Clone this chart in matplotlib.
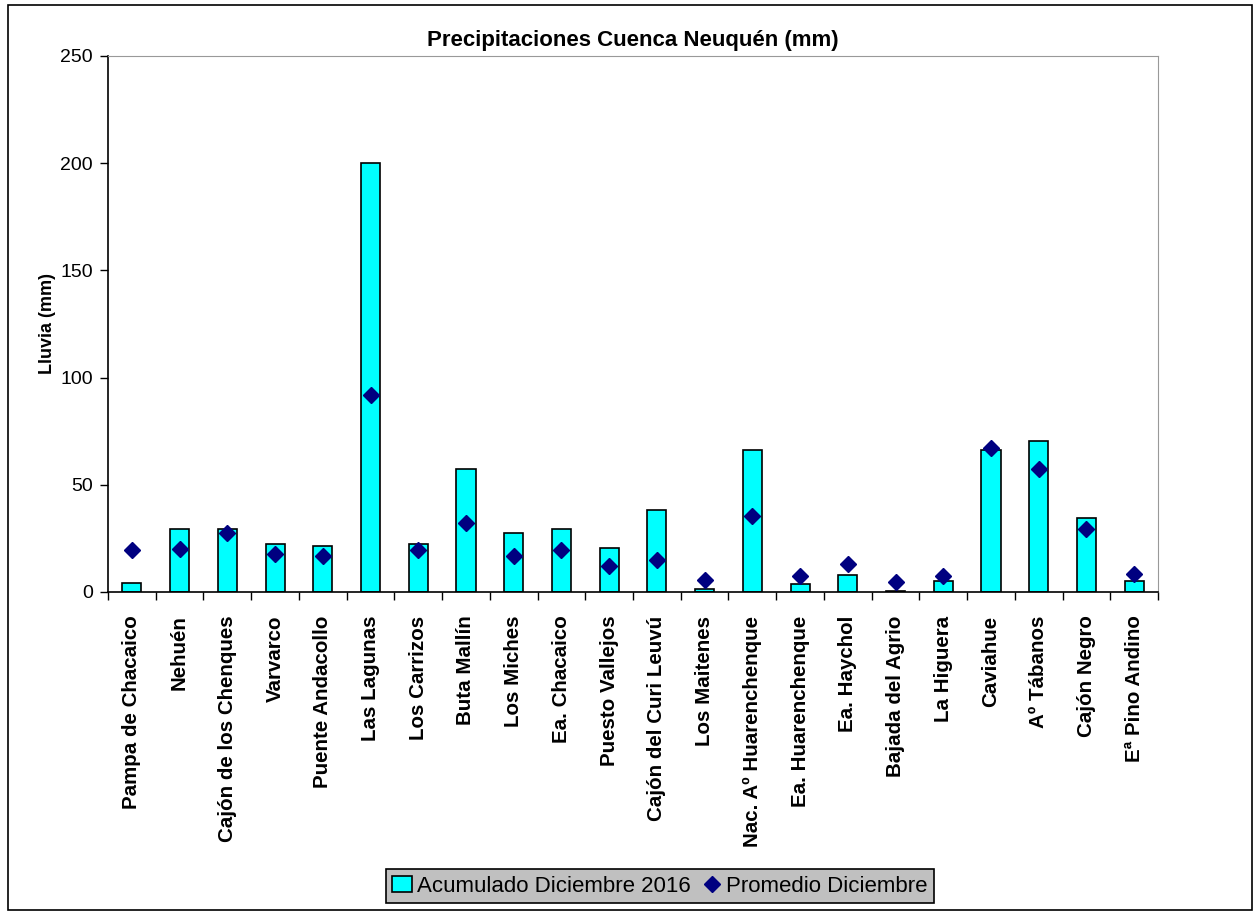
import matplotlib
matplotlib.use("Agg")
import matplotlib.pyplot as plt
from matplotlib.patches import Rectangle
import numpy as np

plt.rcParams['font.family'] = ['Liberation Sans', 'DejaVu Sans']

stations = ["Pampa de Chacaico", "Nehuén", "Cajón de los Chenques", "Varvarco",
            "Puente Andacollo", "Las Lagunas", "Los Carrizos", "Buta Mallín",
            "Los Miches", "Ea. Chacaico", "Puesto Vallejos", "Cajón del Curi Leuvú",
            "Los Maitenes", "Nac. Aº Huarenchenque", "Ea. Huarenchenque", "Ea. Haychol",
            "Bajada del Agrio", "La Higuera", "Caviahue", "Aº Tábanos", "Cajón Negro",
            "Eª Pino Andino"]
acumulado = [4.3, 29.6, 29.6, 22.2, 21.5, 200.0, 22.2, 57.6, 27.6, 29.6, 20.4, 38.1,
             1.2, 66.3, 3.7, 7.9, 0.6, 5.0, 66.3, 70.6, 34.4, 5.0]
promedio = [19.6, 20.2, 27.7, 17.9, 16.6, 92.0, 19.8, 32.4, 16.6, 19.6, 12.3, 14.8,
            5.6, 35.5, 7.6, 13.2, 4.8, 7.5, 67.0, 57.6, 29.4, 8.5]
y_ticks = [0, 50, 100, 150, 200, 250]

fig = plt.figure(figsize=(12.6, 9.15), dpi=100)
ax = fig.add_axes([108/1260, 1-592/915, 1050/1260, 536/915])

x = np.arange(len(stations))
bars = ax.bar(x, acumulado, width=0.4, color='#00FFFF', edgecolor='black', linewidth=1.2,
              label='Acumulado Diciembre 2016', zorder=2)
pts, = ax.plot(x, promedio, linestyle='none', marker='D', markersize=8.5, color='#000080',
               label='Promedio Diciembre', zorder=3)

ax.set_xlim(-0.5, len(stations) - 0.5)
ax.set_ylim(0, 250)
ax.set_yticks(y_ticks)
ax.set_yticklabels([str(v) for v in y_ticks], fontsize=14)
ax.set_xticks(x)
ax.set_xticklabels(stations, rotation=90, fontsize=14.8, fontweight='bold')
ax.tick_params(axis='x', which='major', length=0, pad=17)
ax.set_xticks(np.arange(len(stations) + 1) - 0.5, minor=True)
ax.tick_params(axis='x', which='minor', length=6, direction='out', width=1)
ax.tick_params(axis='y', length=6, direction='out', width=1, pad=5)

for s in ['top', 'right']:
    ax.spines[s].set_color('#999999')
for s in ['left', 'bottom']:
    ax.spines[s].set_color('black')
    ax.spines[s].set_linewidth(1.2)

ax.set_ylabel('Lluvia (mm)', fontsize=13, fontweight='bold', labelpad=3)
ax.set_title('Precipitaciones Cuenca Neuquén (mm)', fontsize=16, fontweight='bold', pad=7)

leg = fig.legend([bars, pts], ['Acumulado Diciembre 2016', 'Promedio Diciembre'],
                 loc='center', bbox_to_anchor=(660/1260, 1-886/915), ncol=2,
                 frameon=True, fancybox=False, fontsize=16, handlelength=0.9,
                 handletextpad=0.2, columnspacing=0.5, borderpad=0.3)
leg.get_frame().set_facecolor('#C0C0C0')
leg.get_frame().set_edgecolor('black')
leg.get_frame().set_linewidth(1.2)
leg.get_frame().set_alpha(1)

fig.patches.append(Rectangle((8/1260, 1-910/915), 1244/1260, 905/915,
                             transform=fig.transFigure, fill=False,
                             edgecolor='black', linewidth=1.2))

fig.savefig('out.png', dpi=100)
